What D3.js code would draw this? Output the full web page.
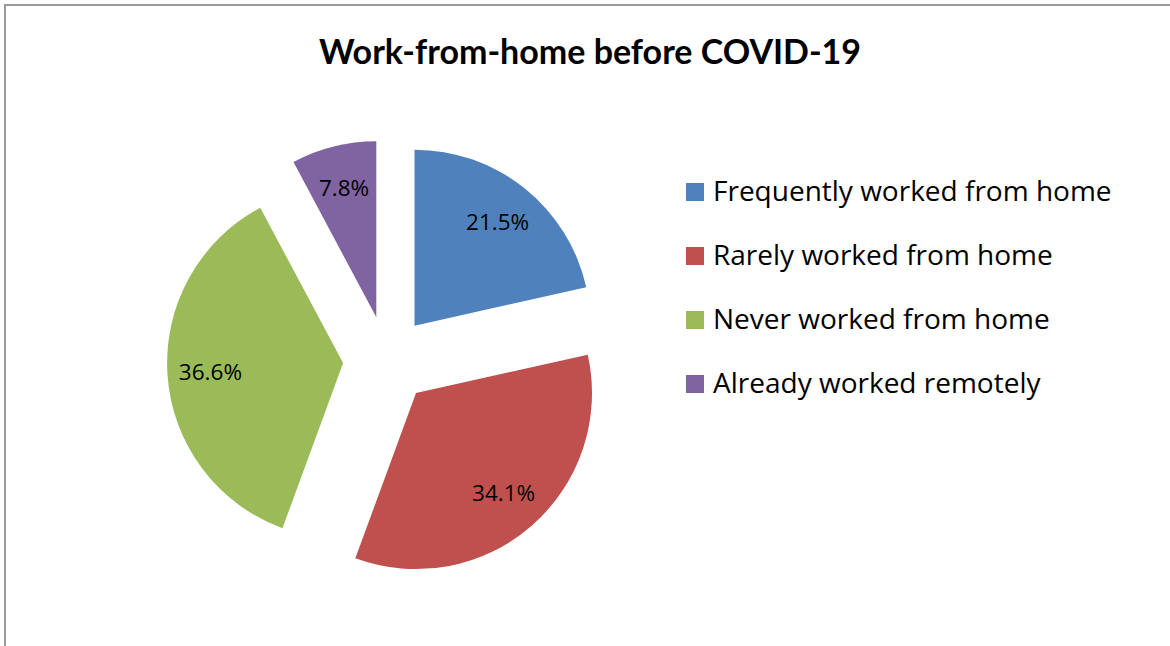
<!DOCTYPE html>
<html>
<head>
<meta charset="utf-8">
<script src="https://cdn.jsdelivr.net/npm/d3@7"></script>
<style>
    html, body { margin: 0; padding: 0; background: #fff; }
    svg { display: block; }
</style>
</head>
<body>
<div id="grafico"></div>
<script>
// datos del grafico
const categorias = ["Frequently worked from home", "Rarely worked from home", "Never worked from home", "Already worked remotely"];
const valores = [21.5, 34.1, 36.6, 7.8];
const colores = ["#4F81BD", "#C0504D", "#9BBB59", "#8064A2"];
const titulo = "Work-from-home before COVID-19";

const width = 1170;
const height = 646;

const centroX = 387;
const centroY = 360;
const radio = 176;
const separacion = 44;   // explode de cada porcion
const radioEtiqueta = 133;

const fuente = "'Open Sans', Lato, sans-serif";

const svg = d3.select("#grafico")
    .append("svg")
    .attr("width", width)
    .attr("height", height);

// marco gris (se corta a la derecha y abajo)
svg.append("rect")
    .attr("x", 5)
    .attr("y", 5)
    .attr("width", width + 20)
    .attr("height", height + 20)
    .attr("fill", "white")
    .attr("stroke", "#9a9a9a")
    .attr("stroke-width", 2);

// titulo
svg.append("text")
    .attr("x", 590)
    .attr("y", 64)
    .attr("text-anchor", "middle")
    .style("font-family", "Lato, 'Open Sans', sans-serif")
    .style("font-weight", "bold")
    .style("font-size", "34px")
    .text(titulo);

/**************************************************
 * Pie
 ***************************************************/
const pie = d3.pie().sort(null).value(d => d);
const arcos = pie(valores);

const arc = d3.arc().innerRadius(0).outerRadius(radio);

const gPie = svg.append("g")
    .attr("transform", `translate(${centroX},${centroY})`);

const porciones = gPie.selectAll("g.porcion")
    .data(arcos)
    .enter()
    .append("g")
    .attr("class", "porcion")
    .attr("transform", d => {
        const a = (d.startAngle + d.endAngle) / 2;
        return `translate(${separacion * Math.sin(a)},${-separacion * Math.cos(a)})`;
    });

porciones.append("path")
    .attr("d", arc)
    .attr("fill", (d, i) => colores[i]);

porciones.append("text")
    .attr("x", d => radioEtiqueta * Math.sin((d.startAngle + d.endAngle) / 2))
    .attr("y", d => -radioEtiqueta * Math.cos((d.startAngle + d.endAngle) / 2))
    .attr("dy", "0.36em")
    .attr("text-anchor", "middle")
    .style("font-family", fuente)
    .style("font-size", "22.5px")
    .text(d => d.data.toFixed(1) + "%");

/**************************************************
 * Legend
 ***************************************************/
const legendX = 686;
const legendY = 192;
const gap = 64;

const legend = svg.append("g").attr("id", "legend");

legend.selectAll("rect")
    .data(categorias)
    .enter()
    .append("rect")
    .attr("x", legendX)
    .attr("y", (d, i) => legendY + gap * i - 9)
    .attr("width", 18)
    .attr("height", 18)
    .attr("fill", (d, i) => colores[i]);

legend.selectAll("text")
    .data(categorias)
    .enter()
    .append("text")
    .attr("x", legendX + 27)
    .attr("y", (d, i) => legendY + gap * i + 9)
    .style("font-family", fuente)
    .style("font-size", "28px")
    .text(d => d);
</script>
</body>
</html>
